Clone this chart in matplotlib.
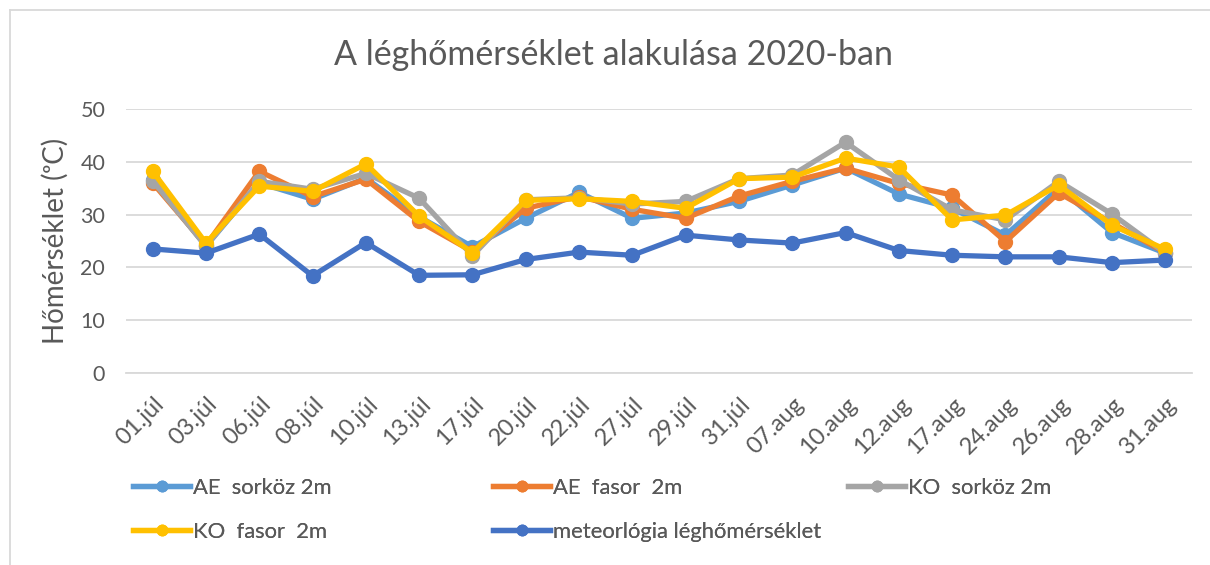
import matplotlib
matplotlib.use("Agg")
import matplotlib.pyplot as plt
from matplotlib.lines import Line2D
from matplotlib.transforms import ScaledTranslation

dates = ['01.júl', '03.júl', '06.júl', '08.júl', '10.júl', '13.júl', '17.júl', '20.júl',
         '22.júl', '27.júl', '29.júl', '31.júl', '07.aug', '10.aug', '12.aug', '17.aug',
         '24.aug', '26.aug', '28.aug', '31.aug']

ae_sorkoz = [36.5, 24.0, 36.0, 32.9, 36.9, 29.6, 23.9, 29.3, 34.2, 29.3,
             30.3, 32.5, 35.6, 38.8, 33.9, 31.2, 26.1, 35.0, 26.6, 22.7]
ae_fasor = [36.0, 24.2, 38.2, 33.4, 36.7, 28.7, 23.0, 31.2, 33.4, 31.0,
            29.3, 33.5, 36.3, 38.8, 35.9, 33.7, 24.9, 34.1, 28.4, 22.8]
ko_sorkoz = [36.4, 24.0, 36.3, 34.8, 37.8, 33.1, 22.2, 32.8, 33.2, 32.0,
             32.5, 36.8, 37.5, 43.7, 36.6, 30.9, 29.0, 36.3, 30.1, 22.7]
ko_fasor = [38.2, 24.6, 35.4, 34.4, 39.6, 29.7, 22.8, 32.7, 33.0, 32.5,
            31.2, 36.8, 37.1, 40.7, 39.0, 29.0, 29.9, 35.6, 28.0, 23.4]
meteor = [23.5, 22.7, 26.3, 18.4, 24.7, 18.5, 18.6, 21.5, 22.9, 22.3,
          26.1, 25.2, 24.6, 26.6, 23.2, 22.3, 22.0, 22.0, 20.9, 21.4]

labels = ['AE  sorköz 2m', 'AE  fasor  2m', 'KO  sorköz 2m', 'KO  fasor  2m',
          'meteorlógia léghőmérséklet']
colors = ['#5B9BD5', '#ED7D31', '#A5A5A5', '#FFC000', '#4472C4']
series = [ae_sorkoz, ae_fasor, ko_sorkoz, ko_fasor, meteor]

yticks = [0, 10, 20, 30, 40, 50]

plt.rcParams['font.family'] = ['Lato', 'Noto Sans', 'DejaVu Sans']
TXT = '#595959'

W, H = 1210, 565
fig = plt.figure(figsize=(W / 100, H / 100), dpi=100)
ax = fig.add_axes([126 / W, 1 - 373 / H, (1192 - 126) / W, (373 - 109) / H])

x = list(range(len(dates)))
lines = []
for vals, c, lab in zip(series, colors, labels):
    ln, = ax.plot(x, vals, color=c, lw=3.8, marker='o', ms=10, label=lab,
                  solid_joinstyle='round', zorder=3)
    lines.append(ln)

ax.set_xlim(-0.5, len(dates) - 0.5)
ax.set_ylim(0, 50)
ax.set_yticks(yticks)
ax.set_xticks(x)
ax.set_xticklabels(dates, rotation=45, ha='right', va='center', rotation_mode='anchor')
ax.tick_params(axis='y', length=0, labelsize=15.5, labelcolor=TXT, pad=15)
ax.tick_params(axis='x', length=0, labelsize=17, labelcolor=TXT, pad=20)
off = ScaledTranslation(8 / 100, 0, fig.dpi_scale_trans)
for t in ax.get_xticklabels():
    t.set_transform(t.get_transform() + off)
for s in ['top', 'right', 'left']:
    ax.spines[s].set_visible(False)
ax.spines['bottom'].set_color('#D9D9D9')
ax.spines['bottom'].set_linewidth(1.3)
ax.grid(axis='y', color='#D9D9D9', lw=1.3)
ax.set_axisbelow(True)

ax.set_ylabel('Hőmérséklet (ᵒC)', fontsize=20, color=TXT, labelpad=8)

fig.text(613 / W, 1 - 55 / H, 'A léghőmérséklet alakulása 2020-ban', fontsize=24.5,
         color=TXT, ha='center', va='center')

# legend columns
cols = [([0, 3], 133), ([1, 4], 493), ([2], 848)]
for idx, xp in cols:
    leg = fig.legend([lines[i] for i in idx], [labels[i] for i in idx],
                     loc='upper left', bbox_to_anchor=(xp / W, 1 - 478 / H),
                     frameon=False, fontsize=15.8, handlelength=2.6, handletextpad=0.12,
                     labelspacing=1.1, borderpad=0, borderaxespad=0, markerscale=0.75)
    for t in leg.get_texts():
        t.set_color(TXT)
    fig.add_artist(leg)

# chart border (partially cropped in the reference)
fig.add_artist(Line2D([9.5 / W, 9.5 / W], [0, 1 - 10 / H], color='#D9D9D9', lw=1.3,
                      transform=fig.transFigure))
fig.add_artist(Line2D([9.5 / W, 1], [1 - 10 / H, 1 - 10 / H], color='#D9D9D9', lw=1.3,
                      transform=fig.transFigure))

fig.savefig('out.png', dpi=100)
